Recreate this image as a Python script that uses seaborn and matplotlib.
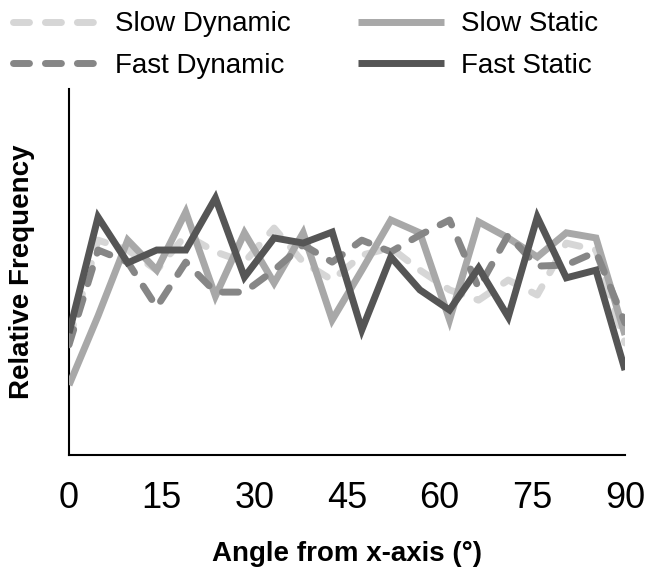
import matplotlib
matplotlib.use("Agg")
import matplotlib.pyplot as plt
import seaborn as sns
import pandas as pd

# ---- data (relative frequency, %) ----
angles = [0, 4.7, 9.5, 14.2, 18.9, 23.7, 28.4, 33.2, 37.9, 42.6,
          47.4, 52.1, 56.8, 61.6, 66.3, 71.1, 75.8, 80.5, 85.3, 90]
slow_dynamic = [3.14, 5.87, 5.60, 5.05, 6.01, 5.55, 5.27, 6.20, 5.27, 4.78,
                5.46, 5.66, 5.05, 4.51, 4.23, 4.78, 4.37, 5.79, 5.60, 3.06]
fast_dynamic = [3.01, 5.60, 5.27, 4.04, 5.27, 4.45, 4.45, 5.05, 5.74, 5.27,
                5.87, 5.55, 6.01, 6.42, 4.56, 6.01, 5.16, 5.19, 5.55, 3.61]
slow_static = [1.91, 3.80, 5.87, 5.05, 6.64, 4.34, 6.07, 4.70, 6.07, 3.69,
               5.05, 6.42, 6.07, 3.69, 6.37, 5.93, 5.41, 6.07, 5.93, 3.28]
fast_static = [3.33, 6.50, 5.25, 5.60, 5.60, 7.02, 4.86, 5.93, 5.79, 6.09,
               3.42, 5.41, 4.51, 3.96, 5.11, 3.77, 6.50, 4.84, 5.05, 2.32]
series_names = ["Slow Dynamic", "Fast Dynamic", "Slow Static", "Fast Static"]
xticks = [0, 15, 30, 45, 60, 75, 90]

frames = []
for name, vals in zip(series_names, [slow_dynamic, fast_dynamic, slow_static, fast_static]):
    frames.append(pd.DataFrame({"angle": angles, "freq": vals, "series": name}))
df = pd.concat(frames, ignore_index=True)

sns.set_style("white")
plt.rcParams["font.family"] = ["Liberation Sans", "DejaVu Sans"]
plt.rcParams["text.color"] = "black"
plt.rcParams["axes.labelcolor"] = "black"
plt.rcParams["xtick.color"] = "black"
plt.rcParams["ytick.color"] = "black"

fig = plt.figure(figsize=(6.45, 5.69), dpi=100)
ax = fig.add_axes([0.107, 0.2004, 0.862, 0.6432])

colors = {"Slow Dynamic": "#d6d6d6", "Fast Dynamic": "#868686",
          "Slow Static": "#a8a8a8", "Fast Static": "#555555"}
dashed = {"Slow Dynamic": True, "Fast Dynamic": True,
          "Slow Static": False, "Fast Static": False}
draw_order = ["Slow Dynamic", "Slow Static", "Fast Dynamic", "Fast Static"]
handles = {}
for i, name in enumerate(draw_order):
    sub = df[df["series"] == name]
    sns.lineplot(data=sub, x="angle", y="freq", ax=ax, color=colors[name],
                 linewidth=5, label=name, zorder=2 + i, legend=False)
    line = ax.lines[-1]
    line.set_solid_capstyle("butt")
    line.set_solid_joinstyle("miter")
    if dashed[name]:
        line.set_linestyle((0, (2.3, 2.3)))
        line.set_dash_capstyle("round")
    handles[name] = line

ax.set_xlim(0, 90)
ax.set_ylim(0, 10)
ax.set_xticks(xticks)
ax.set_xticklabels([str(t) for t in xticks], fontsize=26)
ax.set_yticks([0, 10])
ax.set_yticklabels([])
ax.tick_params(axis="both", direction="out", length=7, width=1.5, color="black")
ax.tick_params(axis="x", pad=12, labelcolor="black")
for s in ["top", "right"]:
    ax.spines[s].set_visible(False)
for s in ["left", "bottom"]:
    ax.spines[s].set_color("black")
    ax.spines[s].set_linewidth(1.5)

ax.set_xlabel("Angle from x-axis (°)", fontsize=20, fontweight="bold", labelpad=18)
ax.set_ylabel("Relative Frequency", fontsize=20, fontweight="bold", labelpad=14)

fig.legend([handles[n] for n in series_names], series_names,
           loc="upper left", bbox_to_anchor=(0.011, 0.99), ncol=2, frameon=False,
           fontsize=20, handlelength=3.1, handletextpad=0.6, columnspacing=2.4,
           labelspacing=0.56, borderpad=0.2, borderaxespad=0.0)

fig.savefig("out.png", dpi=100)
